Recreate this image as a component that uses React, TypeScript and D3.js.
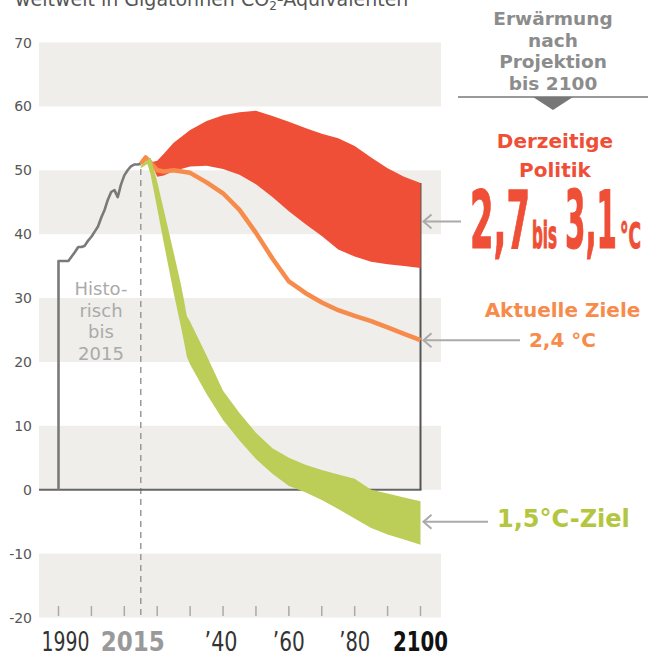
import React from "react";
import * as d3 from "d3";

// ---- data ----
const histYears = [1990, 1991, 1992, 1993, 1994, 1995, 1996, 1997, 1998, 1999, 2000, 2001, 2002, 2003, 2004, 2005, 2006, 2007, 2008, 2009, 2010, 2011, 2012, 2013, 2014, 2015];
const histValues = [35.8, 35.8, 35.8, 35.8, 36.5, 37.2, 38.0, 38.0, 38.2, 39.0, 39.6, 40.4, 41.2, 42.6, 43.8, 45.4, 46.6, 46.9, 45.8, 47.8, 49.2, 50.0, 50.6, 50.9, 50.9, 51.0];

const policyYears = [2018.5, 2020, 2022, 2025, 2030, 2035, 2040, 2045, 2050, 2055, 2060, 2065, 2070, 2075, 2080, 2085, 2090, 2095, 2100];
const policyLow = [50.8, 49.0, 49.2, 49.9, 50.6, 50.7, 50.2, 49.3, 47.8, 45.8, 43.6, 41.6, 39.7, 37.6, 36.5, 35.7, 35.3, 35.0, 34.7];
const policyHigh = [51.3, 51.5, 52.6, 54.3, 56.3, 57.7, 58.6, 59.1, 59.3, 58.5, 57.6, 56.6, 55.7, 55.0, 53.8, 52.0, 50.3, 49.0, 48.0];

const pledgeYears = [2015, 2016.5, 2018, 2020, 2022, 2025, 2030, 2035, 2040, 2045, 2050, 2055, 2060, 2065, 2070, 2075, 2080, 2085, 2090, 2095, 2100];
const pledgeValues = [51.0, 52.0, 51.2, 50.0, 49.8, 50.0, 49.6, 48.1, 46.4, 43.8, 40.2, 36.2, 32.6, 30.8, 29.3, 28.1, 27.2, 26.4, 25.4, 24.4, 23.4];

const goalYears = [2015, 2017, 2018, 2020, 2022, 2025, 2027, 2028, 2029, 2030, 2035, 2040, 2045, 2050, 2055, 2060, 2065, 2070, 2075, 2080, 2085, 2090, 2095, 2100];
const goalLow = [50.3, 51.0, 49.3, 44.0, 38.6, 30.8, 26.0, 23.5, 20.8, 19.6, 15.0, 10.9, 7.7, 4.8, 2.5, 0.6, -0.4, -1.6, -3.0, -4.5, -6.0, -7.0, -7.8, -8.6];
const goalHigh = [50.7, 51.6, 52.0, 48.2, 43.8, 37.1, 32.6, 30.0, 27.2, 26.3, 21.0, 15.5, 12.0, 8.9, 6.5, 5.0, 3.9, 3.1, 2.4, 1.7, 0.0, -0.6, -1.2, -1.8];

const yTicks = [70, 60, 50, 40, 30, 20, 10, 0, -10, -20];
const xTickYears = [1990, 2000, 2010, 2020, 2030, 2040, 2050, 2060, 2070, 2080, 2090, 2100];
const xLabels = [
  { year: 1990, text: "1990", dx: 7, len: 48, color: "#333", weight: 400 },
  { year: 2015, text: "2015", dx: -8, len: 64, color: "#999", weight: 700 },
  { year: 2040, text: "\u201940", dx: -2, len: 33, color: "#333", weight: 400 },
  { year: 2060, text: "\u201960", dx: 0, len: 32, color: "#333", weight: 400 },
  { year: 2080, text: "\u201980", dx: 0, len: 31, color: "#333", weight: 400 },
  { year: 2100, text: "2100", dx: 0, len: 55, color: "#111", weight: 700 },
];
const bigParts = [
  { text: "2,7", x: 470, size: 80, len: 60 },
  { text: "bis", x: 532, size: 37, len: 25 },
  { text: "3,1", x: 565, size: 80, len: 52 },
  { text: "°C", x: 620, size: 36, len: 21 },
];

const FONT = "'DejaVu Sans', sans-serif";
const RED = "#ef4f36";
const ORANGE = "#f68b4b";
const GREEN = "#bccd58";
const GREEN_TEXT = "#b3c63e";
const SQUEEZE = 0.42;

export default function App() {
  const x = d3.scaleLinear().domain([1990, 2100]).range([58.5, 420.5]);
  const y = d3.scaleLinear().domain([-20, 70]).range([617.5, 42.5]);

  const histPts: [number, number][] = histYears.map((yr, i) => [yr, histValues[i]]);
  const histLine = d3.line<[number, number]>().x((d) => x(d[0])).y((d) => y(d[1]));
  const histPath = histLine([[1990, 0], ...histPts]) || "";

  const policyArea = d3
    .area<number>()
    .x((_, i) => x(policyYears[i]))
    .y0((_, i) => y(policyLow[i]))
    .y1((_, i) => y(policyHigh[i]));
  const goalArea = d3
    .area<number>()
    .x((_, i) => x(goalYears[i]))
    .y0((_, i) => y(goalLow[i]))
    .y1((_, i) => y(goalHigh[i]));
  const pledgeLine = d3
    .line<number>()
    .x((_, i) => x(pledgeYears[i]))
    .y((d) => y(d));

  const bands = [70, 50, 30, 10, -10];
  const xLeft = 39;
  const xBandRight = 441;
  const x2100 = x(2100);

  const arrow = (yy: number, x2: number) => {
    const x1 = x2100 + 3;
    return (
      <g stroke="#aaa" strokeWidth={2} fill="none">
        <line x1={x1} y1={yy} x2={x2} y2={yy} />
        <path d={`M${x1 + 8},${yy - 7} L${x1},${yy} L${x1 + 8},${yy + 7}`} />
      </g>
    );
  };

  return (
    <svg width={648} height={655} style={{ position: "absolute", left: 0, top: 0 }} fontFamily={FONT}>
      <rect width={648} height={655} fill="#fff" />
      {/* title (cut at top) */}
      <text x={15} y={6} fontSize={19} fill="#555">
        weltweit in Gigatonnen CO
        <tspan fontSize={12} dy={4}>2</tspan>
        <tspan dy={-4}>-Äquivalenten</tspan>
      </text>

      {/* bands */}
      {bands.map((b) => (
        <rect key={b} x={xLeft} y={y(b)} width={xBandRight - xLeft} height={y(b - 10) - y(b)} fill="#efeeea" />
      ))}

      {/* y labels */}
      {yTicks.map((t) => (
        <text key={t} x={32} y={y(t) + 5} fontSize={14} fill="#555" textAnchor="end">
          {t}
        </text>
      ))}

      {/* x ticks */}
      {xTickYears.map((yr) => (
        <line key={yr} x1={x(yr)} x2={x(yr)} y1={606} y2={616} stroke="#aaa" strokeWidth={1.5} />
      ))}

      {/* 2015 dashed */}
      <line x1={x(2015)} x2={x(2015)} y1={y(50.2)} y2={618} stroke="#999" strokeWidth={1.5} strokeDasharray="6 5" />

      {/* baseline and 2100 line */}
      <line x1={xLeft} x2={x2100 + 1} y1={y(0)} y2={y(0)} stroke="#666" strokeWidth={2} />
      <line x1={x2100} x2={x2100} y1={y(0)} y2={y(policyHigh[policyHigh.length - 1])} stroke="#555" strokeWidth={2} />

      {/* historical */}
      <path d={histPath} fill="none" stroke="#7a7a7a" strokeWidth={2.6} strokeLinejoin="round" />
      <text fontSize={18} fill="#aaa" textAnchor="middle">
        <tspan x={101} y={295}>Histo-</tspan>
        <tspan x={101} y={316.5}>risch</tspan>
        <tspan x={101} y={338}>bis</tspan>
        <tspan x={101} y={360}>2015</tspan>
      </text>

      {/* scenarios */}
      <path d={policyArea(policyYears) || ""} fill={RED} />
      <path d={pledgeLine(pledgeValues) || ""} fill="none" stroke={ORANGE} strokeWidth={4.5} strokeLinejoin="round" />
      <path d={goalArea(goalYears) || ""} fill={GREEN} />

      {/* x labels */}
      {xLabels.map((l) => (
        <text
          key={l.text}
          transform={`translate(${x(l.year) + l.dx},651) scale(0.62,1)`}
          fontSize={27}
          fill={l.color}
          fontWeight={l.weight}
          textAnchor="middle"
          textLength={l.len / 0.62}
          lengthAdjust="spacingAndGlyphs"
        >
          {l.text}
        </text>
      ))}

      {/* right header */}
      <text fontSize={18.5} fontWeight={700} fill="#8c8c8c" textAnchor="middle">
        <tspan x={553} y={25}>Erwärmung</tspan>
        <tspan x={553} y={46.5}>nach</tspan>
        <tspan x={553} y={68}>Projektion</tspan>
        <tspan x={553} y={89.5}>bis 2100</tspan>
      </text>
      <line x1={458} x2={648} y1={97} y2={97} stroke="#777" strokeWidth={1.5} />
      <path d="M533,97 L573,97 L553,110 Z" fill="#777" />

      {/* current policy */}
      <text fontSize={20} fontWeight={700} fill={RED} textAnchor="middle">
        <tspan x={555} y={148}>Derzeitige</tspan>
        <tspan x={555} y={176.5}>Politik</tspan>
      </text>
      <g fill={RED} stroke={RED} strokeWidth={1.2} fontWeight={700}>
        {bigParts.map((p) => (
          <text
            key={p.text}
            transform={`translate(${p.x},248) scale(${SQUEEZE},1)`}
            fontSize={p.size}
            textLength={p.len / SQUEEZE}
            lengthAdjust="spacingAndGlyphs"
          >
            {p.text}
          </text>
        ))}
      </g>
      {arrow(y(42), 461)}

      {/* pledges */}
      <text fontSize={20} fontWeight={700} fill={ORANGE} textAnchor="middle">
        <tspan x={562.5} y={316.5}>Aktuelle Ziele</tspan>
        <tspan x={562.5} y={346.5}>2,4 °C</tspan>
      </text>
      {arrow(y(pledgeValues[pledgeValues.length - 1]), 520)}

      {/* 1.5 goal */}
      <text x={497} y={527} fontSize={24} fontWeight={700} fill={GREEN_TEXT}>
        1,5°C-Ziel
      </text>
      {arrow(y(-5), 488)}
    </svg>
  );
}
